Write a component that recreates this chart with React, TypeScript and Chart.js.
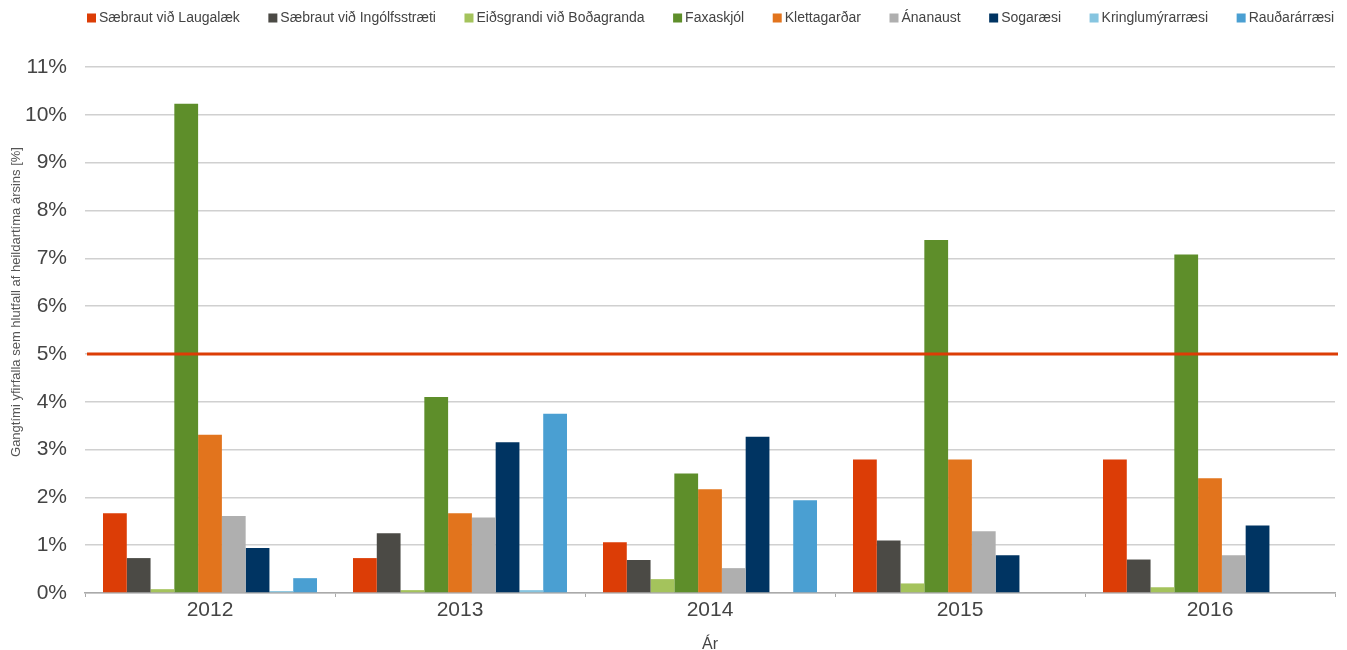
import React, { useEffect, useRef } from 'react';
import { Chart, registerables } from 'chart.js';

Chart.register(...registerables);

const years = ['2012', '2013', '2014', '2015', '2016'];
const seriesNames = [
  'Sæbraut við Laugalæk',
  'Sæbraut við Ingólfsstræti',
  'Eiðsgrandi við Boðagranda',
  'Faxaskjól',
  'Klettagarðar',
  'Ánanaust',
  'Sogaræsi',
  'Kringlumýrarræsi',
  'Rauðarárræsi',
];
const seriesColors = [
  '#DC3D06',
  '#4B4A45',
  '#A4C35C',
  '#5E8E2A',
  '#E2741D',
  '#AFAFAF',
  '#003462',
  '#86C5E0',
  '#4A9FD2',
];
const saebrautLaugalaek = [1.67, 0.73, 1.06, 2.79, 2.79];
const saebrautIngolfsstraeti = [0.73, 1.25, 0.69, 1.1, 0.7];
const eidsgrandi = [0.08, 0.06, 0.29, 0.2, 0.12];
const faxaskjol = [10.23, 4.1, 2.5, 7.38, 7.08];
const klettagardar = [3.31, 1.67, 2.17, 2.79, 2.4];
const ananaust = [1.61, 1.58, 0.52, 1.29, 0.79];
const sogaraesi = [0.94, 3.15, 3.27, 0.79, 1.41];
const kringlumyrarraesi = [0.04, 0.06, null, null, null];
const raudararraesi = [0.31, 3.75, 1.94, null, null];
const seriesValues = [
  saebrautLaugalaek,
  saebrautIngolfsstraeti,
  eidsgrandi,
  faxaskjol,
  klettagardar,
  ananaust,
  sogaraesi,
  kringlumyrarraesi,
  raudararraesi,
];
const thresholdValue = 5;
const yMax = 11;
const yTitle = 'Gangtími yfirfalla sem hlutfall af heildartíma ársins [%]';
const xTitle = 'Ár';

const FONT = '"Liberation Sans", Arial, Helvetica, sans-serif';

// layout tuning
const LEGEND_H = 67;
const LEGEND_X = 91;
const LEGEND_Y = 11;
const Y_AXIS_W = 85;
const Y_TITLE_X = 16;
const Y_TITLE_Y = 302;

const thresholdPlugin = {
  id: 'thresholdLine',
  afterDatasetsDraw(chart: any) {
    const { ctx, chartArea, scales } = chart;
    const y = scales.y.getPixelForValue(thresholdValue);
    ctx.save();
    ctx.strokeStyle = '#DC3D06';
    ctx.lineWidth = 3;
    ctx.beginPath();
    ctx.moveTo(chartArea.left + 2, y);
    ctx.lineTo(chartArea.right + 3, y);
    ctx.stroke();
    ctx.restore();
  },
};

const legendTweakPlugin = {
  id: 'legendTweak',
  beforeLayout(chart: any) {
    const lg = chart.legend;
    if (lg && !lg._patched) {
      const orig = lg.fit;
      lg.fit = function () {
        orig.call(this);
        this.height = LEGEND_H;
      };
      lg._patched = true;
    }
  },
  afterLayout(chart: any) {
    const lg = chart.legend;
    if (!lg || !lg.lineWidths) return;
    const p = lg.options.labels.padding;
    const start = (lg.left + p + lg.right - lg.lineWidths[0]) / 2;
    const dx = LEGEND_X - start;
    lg.left += dx;
    lg.right += dx;
    const dy = LEGEND_Y - (lg.top + p);
    lg.top += dy;
    lg.bottom += dy;
  },
};

const yTitlePlugin = {
  id: 'yTitle',
  afterDraw(chart: any) {
    const { ctx } = chart;
    ctx.save();
    ctx.translate(Y_TITLE_X, Y_TITLE_Y);
    ctx.rotate(-Math.PI / 2);
    ctx.font = '13px ' + FONT;
    ctx.fillStyle = '#555';
    ctx.textAlign = 'center';
    ctx.textBaseline = 'middle';
    ctx.fillText(yTitle, 0, 0);
    ctx.restore();
  },
};

export default function App() {
  const ref = useRef<HTMLCanvasElement | null>(null);
  useEffect(() => {
    document.body.style.margin = '0';
    if (!ref.current) return;
    const chart = new Chart(ref.current, {
      type: 'bar',
      data: {
        labels: years,
        datasets: seriesNames.map((name, i) => ({
          label: name,
          data: seriesValues[i],
          backgroundColor: seriesColors[i],
          borderWidth: 0,
          barPercentage: 1,
          categoryPercentage: 0.856,
        })),
      },
      options: {
        animation: false,
        responsive: false,
        maintainAspectRatio: false,
        layout: { padding: { left: 0, right: 12, top: 0, bottom: -3 } },
        plugins: {
          legend: {
            position: 'top',
            labels: {
              usePointStyle: true,
              pointStyle: 'rect',
              boxWidth: 1,
              boxHeight: 9,
              padding: 32.5,
              color: '#444',
              font: { family: FONT, size: 14 },
            },
          },
          tooltip: { enabled: false },
        },
        scales: {
          x: {
            grid: {
              display: true,
              drawOnChartArea: false,
              drawTicks: true,
              tickLength: 4,
              color: '#aaa',
            },
            border: { color: '#aaa', width: 1.5 },
            ticks: {
              color: '#444',
              font: { family: FONT, size: 21, lineHeight: 1 },
              padding: 2.5,
            },
            title: {
              display: true,
              text: xTitle,
              color: '#444',
              font: { family: FONT, size: 16, lineHeight: 1 },
              padding: { top: 14, bottom: 0 },
            },
          },
          y: {
            min: 0,
            max: yMax,
            afterFit(scale: any) {
              scale.width = Y_AXIS_W;
            },
            ticks: {
              stepSize: 1,
              color: '#444',
              font: { family: FONT, size: 21 },
              padding: 18,
              callback: (v: any) => v + '%',
            },
            grid: { color: '#d0d0d0', lineWidth: 1.5, drawTicks: false },
            border: { display: false },
            title: { display: false },
          },
        },
      },
      plugins: [thresholdPlugin, legendTweakPlugin, yTitlePlugin],
    });
    return () => chart.destroy();
  }, []);
  return (
    <div style={{ width: 1347, height: 650 }}>
      <canvas ref={ref} width={1347} height={650} style={{ display: 'block' }} />
    </div>
  );
}
